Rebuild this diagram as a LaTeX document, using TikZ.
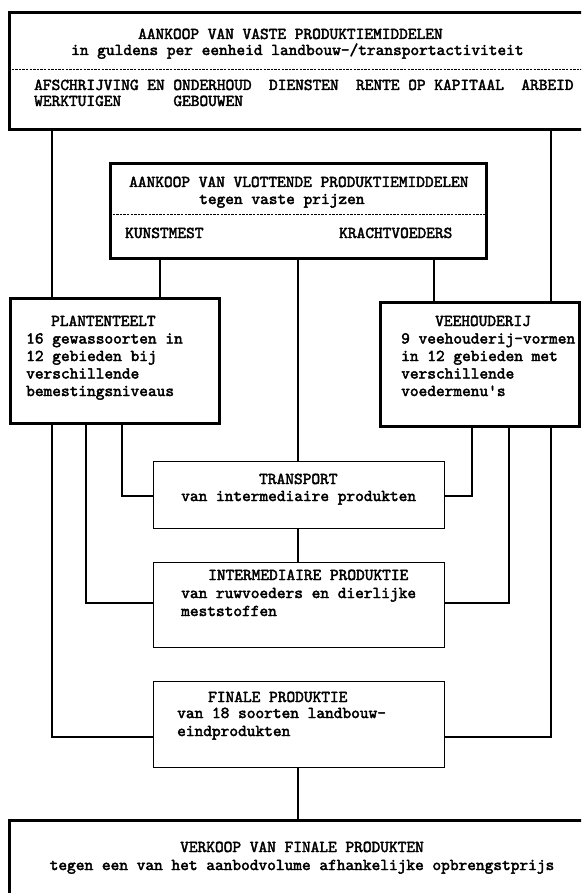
\documentclass[tikz,border=0pt]{standalone}
\usepackage{fontspec}
\newfontfamily\tw{lmmono10-regular.otf}[FakeBold=2.5]
\begin{document}
\begin{tikzpicture}[x=1pt,y=-1pt]
\tikzset{
 thickbox/.style={draw, line width=2.8pt, rectangle, inner sep=0pt, anchor=north west},
 thinbox/.style={draw, line width=1.4pt, rectangle, inner sep=0pt, anchor=north west},
 conn/.style={line width=1.3pt},
 sepline/.style={line width=0.9pt, dash pattern=on 2.4pt off 1.2pt},
 txt/.style={inner sep=0pt, anchor=base west, font=\tw\fontsize{16.57}{19}\selectfont},
 ctxt/.style={txt, anchor=base},
}
\useasboundingbox (0,0) rectangle (581,893);
\clip (0,0) rectangle (581,893);
\fill[white] (0,0) rectangle (581,893);

% boxes
\node[thickbox, minimum width=582pt, minimum height=117pt] (top) at (8,11) {};
\node[thickbox, minimum width=376pt, minimum height=95pt] (vlot) at (109,162) {};
\node[thickbox, minimum width=209pt, minimum height=125pt] (plant) at (9,297) {};
\node[thickbox, minimum width=199pt, minimum height=124pt] (vee) at (379,301) {};
\node[thinbox, minimum width=291pt, minimum height=67pt] (trans) at (153,461) {};
\node[thinbox, minimum width=291pt, minimum height=85pt] (inter) at (153,562) {};
\node[thinbox, minimum width=291pt, minimum height=86pt] (fin) at (153,681) {};
\node[thickbox, minimum width=600pt, minimum height=150pt] (verk) at (8,819) {};

% dashed separators
\draw[sepline] (top.west |- 0,69) -- (top.east |- 0,69);
\draw[sepline] (vlot.west |- 0,214) -- (vlot.east |- 0,214);

% connector positions
\coordinate (cL1) at (52,737);
\coordinate (cL2) at (86,603);
\coordinate (cL3) at (122,496);
\coordinate (cK1) at (160,0);
\coordinate (cK2) at (434,0);
\coordinate (cM) at (298,0);
\coordinate (cR1) at (551,737);
\coordinate (cR2) at (509,603);
\coordinate (cR3) at (472,496);

% connectors
\draw[conn] (top.south -| cL1) -- (plant.north -| cL1);
\draw[conn] (top.south -| cR1) -- (vee.north -| cR1);
\draw[conn] (vlot.south -| cK1) -- (plant.north -| cK1);
\draw[conn] (vlot.south -| cK2) -- (vee.north -| cK2);
\draw[conn] (vlot.south -| cM) -- (trans.north -| cM);
\draw[conn] (trans.south -| cM) -- (inter.north -| cM);
\draw[conn] (fin.south -| cM) -- (verk.north -| cM);
\draw[conn] (plant.south -| cL1) |- (fin.west |- cL1);
\draw[conn] (plant.south -| cL2) |- (inter.west |- cL2);
\draw[conn] (plant.south -| cL3) |- (trans.west |- cL3);
\draw[conn] (vee.south -| cR1) |- (fin.east |- cR1);
\draw[conn] (vee.south -| cR2) |- (inter.east |- cR2);
\draw[conn] (vee.south -| cR3) |- (trans.east |- cR3);

% texts: top box
\node[txt] (tA) at (138,39) {AANKOOP VAN VASTE PRODUKTIEMIDDELEN};
\node[txt] (tB) at (71,55) {in guldens per eenheid landbouw-/transportactiviteit};
\node[txt] (tC) at (34,90) {AFSCHRIJVING EN ONDERHOUD~~DIENSTEN~~RENTE OP KAPITAAL~~ARBEID};
\node[txt] (tD) at (34,106) {WERKTUIGEN~~~~~~GEBOUWEN};
% vlottende
\node[txt] (vA) at (129,187) {AANKOOP VAN VLOTTENDE PRODUKTIEMIDDELEN};
\node[txt] (vB) at (199,204) {tegen vaste prijzen};
\node[txt] (vC) at (125,238) {KUNSTMEST};
\node[txt] (vD) at (339,238) {KRACHTVOEDERS};
% plantenteelt
\node[txt] (pA) at (51,326) {PLANTENTEELT};
\node[txt] (pB) at (26,343.5) {16 gewassoorten in};
\node[txt] (pC) at (26,361) {12 gebieden bij};
\node[txt] (pD) at (26,378.5) {verschillende};
\node[txt] (pE) at (26,396) {bemestingsniveaus};
% veehouderij
\node[txt] (eA) at (435,326) {VEEHOUDERIJ};
\node[txt] (eB) at (401,343.5) {9 veehouderij-vormen};
\node[txt] (eC) at (401,361) {in 12 gebieden met};
\node[txt] (eD) at (401,378.5) {verschillende};
\node[txt] (eE) at (401,396) {voedermenu's};
% transport
\node[txt] (rA) at (259,484) {TRANSPORT};
\node[txt] (rB) at (181,501) {van intermediaire produkten};
% intermediaire
\node[txt] (iA) at (208,580) {INTERMEDIAIRE PRODUKTIE};
\node[txt] (iB) at (181,598) {van ruwvoeders en dierlijke};
\node[txt] (iC) at (181,616) {meststoffen};
% finale
\node[txt] (fA) at (208,702) {FINALE PRODUKTIE};
\node[txt] (fB) at (177,718) {van 18 soorten landbouw-};
\node[txt] (fC) at (177,736) {eindprodukten};
% verkoop
\node[ctxt] (bA) at (302,852) {VERKOOP VAN FINALE PRODUKTEN};
\node[ctxt] (bB) at (302,870) {tegen een van het aanbodvolume afhankelijke opbrengstprijs};
\end{tikzpicture}
\end{document}
